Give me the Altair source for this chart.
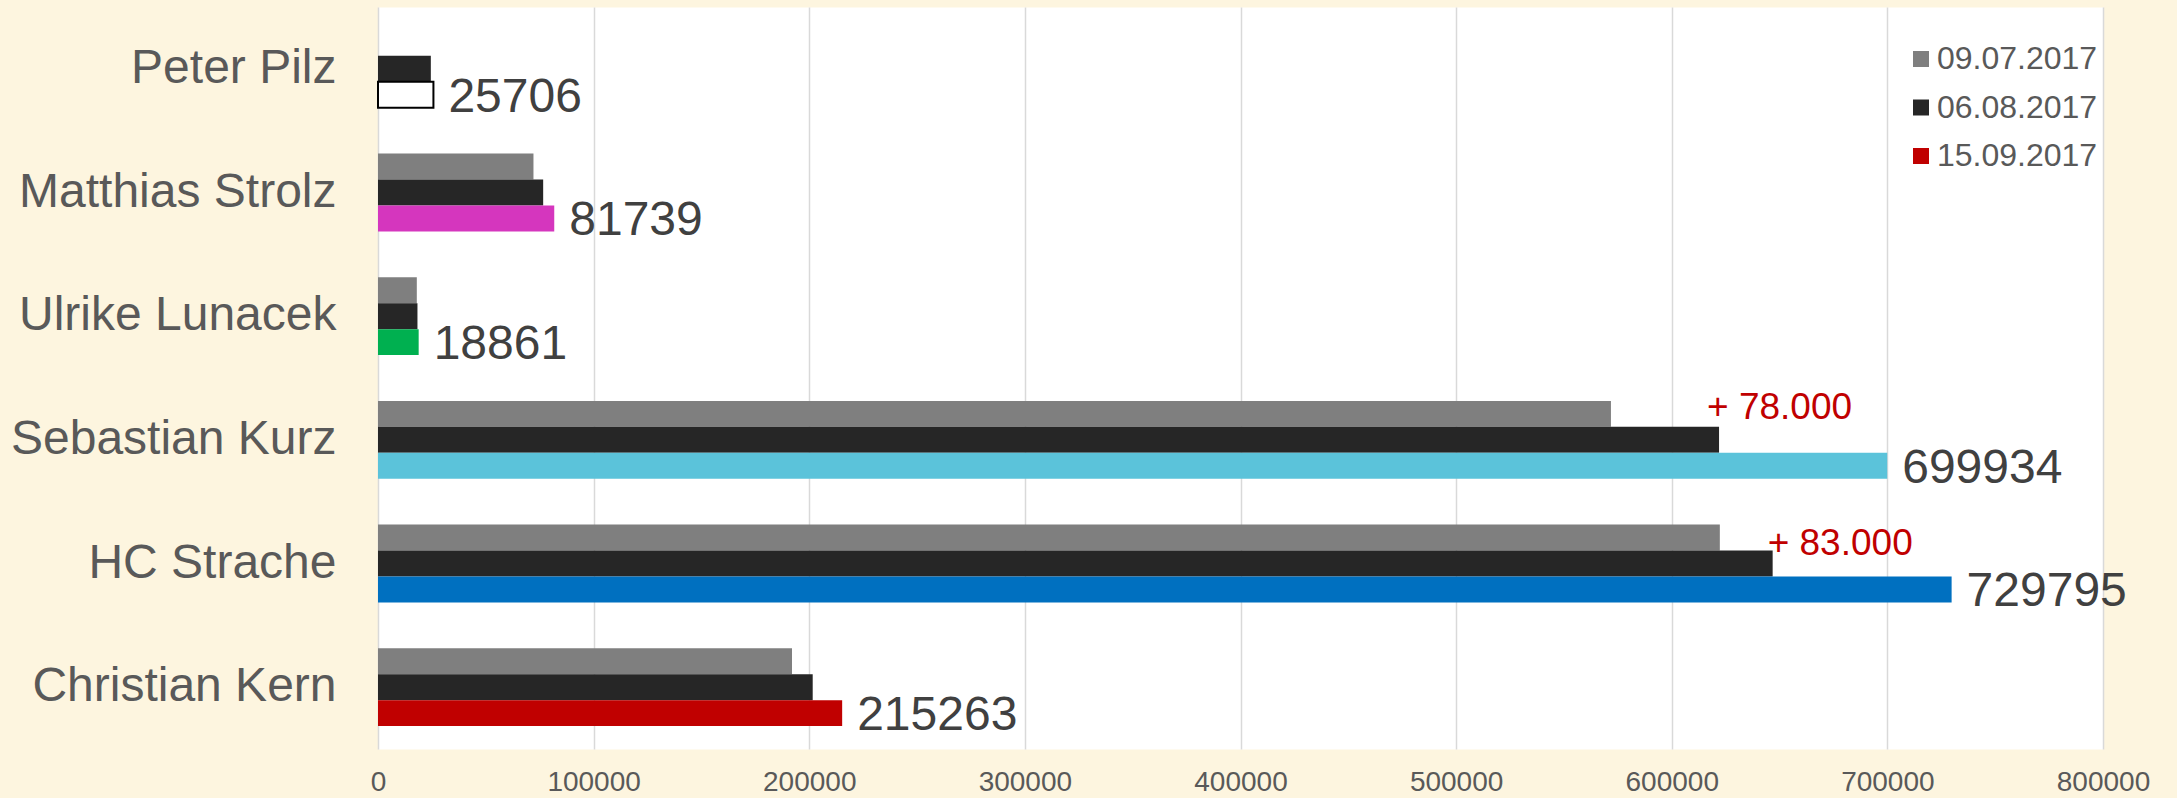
import altair as alt
import pandas as pd

candidates = ["Peter Pilz", "Matthias Strolz", "Ulrike Lunacek",
              "Sebastian Kurz", "HC Strache", "Christian Kern"]
dates = ["09.07.2017", "06.08.2017", "15.09.2017"]
vals_0907 = [None, 72100, 18000, 571800, 622300, 192000]
vals_0608 = [24500, 76600, 18300, 621934, 646795, 201600]
vals_1509 = [25706, 81739, 18861, 699934, 729795, 215263]
colors_1509 = ["#FFFFFF", "#D536BE", "#00B050", "#5BC3DA", "#0070C0", "#C00000"]
date_colors = ["#7F7F7F", "#262626"]
gain_candidates = ["Sebastian Kurz", "HC Strache"]
gain_labels = ["+ 78.000", "+ 83.000"]
x_ticks = [0, 100000, 200000, 300000, 400000, 500000, 600000, 700000, 800000]

rows = []
for i, c in enumerate(candidates):
    for d, v in zip(dates, [vals_0907[i], vals_0608[i], vals_1509[i]]):
        if v is None:
            continue
        key = c if d == dates[2] else d
        rows.append({"candidate": c, "date": d, "value": v, "key": key})
bars_df = pd.DataFrame(rows)

labels_df = pd.DataFrame({"candidate": candidates, "date": dates[2],
                          "value": vals_1509, "label": [str(v) for v in vals_1509]})
gain_df = pd.DataFrame({"candidate": gain_candidates, "date": dates[1],
                        "value": [vals_0608[candidates.index(c)] for c in gain_candidates],
                        "label": gain_labels})

y_enc = alt.Y("candidate:N", sort=candidates,
              scale=alt.Scale(paddingInner=0.37, paddingOuter=0.185),
              axis=alt.Axis(title=None, domain=False, ticks=False, labelFontSize=48,
                            labelColor="#595959", labelPadding=42, labelLimit=1000))
yoff_enc = alt.YOffset("date:N", sort=dates,
                       scale=alt.Scale(domain=dates, paddingInner=0, paddingOuter=0))
x_enc = alt.X("value:Q", scale=alt.Scale(domain=[0, 800000], nice=False),
              axis=alt.Axis(title=None, values=x_ticks, format="d", domain=False, ticks=False,
                            labelFontSize=28, labelColor="#595959", labelPadding=19,
                            labelFlush=False, gridColor="#D9D9D9", gridWidth=1.5))

bars = alt.Chart(bars_df).mark_bar().encode(
    y=y_enc, yOffset=yoff_enc, x=x_enc,
    color=alt.Color("key:N",
                    scale=alt.Scale(domain=dates[:2] + candidates, range=date_colors + colors_1509),
                    legend=alt.Legend(title=None, orient="none", direction="vertical",
                                      legendX=1527, legendY=36,
                                      values=["09.07.2017", "06.08.2017", "Christian Kern"],
                                      labelExpr="datum.label == 'Christian Kern' ? '15.09.2017' : datum.label",
                                      symbolType="square", symbolSize=256, symbolStrokeWidth=0,
                                      labelFontSize=32, labelColor="#595959", rowPadding=16.5,
                                      labelOffset=0, padding=0, labelLimit=1000)),
    stroke=alt.condition(alt.datum.key == "Peter Pilz", alt.value("#000000"), alt.value("transparent")),
    strokeWidth=alt.condition(alt.datum.key == "Peter Pilz", alt.value(2), alt.value(0)),
)

value_text = alt.Chart(labels_df).mark_text(
    align="left", baseline="middle", dx=15, dy=3, fontSize=48, color="#404040"
).encode(y=alt.Y("candidate:N", sort=candidates), yOffset=yoff_enc, x="value:Q", text="label:N")

gain_kurz = alt.Chart(gain_df).transform_filter(alt.datum.candidate == gain_candidates[0]).mark_text(
    align="left", baseline="alphabetic", dx=-12, dy=-21, fontSize=37, color="#C00000"
).encode(y=alt.Y("candidate:N", sort=candidates), yOffset=yoff_enc, x="value:Q", text="label:N")

gain_strache = alt.Chart(gain_df).transform_filter(alt.datum.candidate == gain_candidates[1]).mark_text(
    align="left", baseline="alphabetic", dx=-5, dy=-9, fontSize=37, color="#C00000"
).encode(y=alt.Y("candidate:N", sort=candidates), yOffset=yoff_enc, x="value:Q", text="label:N")

chart = alt.layer(bars, value_text, gain_kurz, gain_strache).properties(
    width=1725, height=742,
    autosize=alt.AutoSizeParams(type="none"),
    padding={"left": 378, "top": 7, "right": 74, "bottom": 49},
    background="#FDF5DF",
).configure(font="Liberation Sans").configure_view(fill="white", stroke="transparent")

chart.save("out.html", embed_options={"renderer": "svg", "actions": False})
